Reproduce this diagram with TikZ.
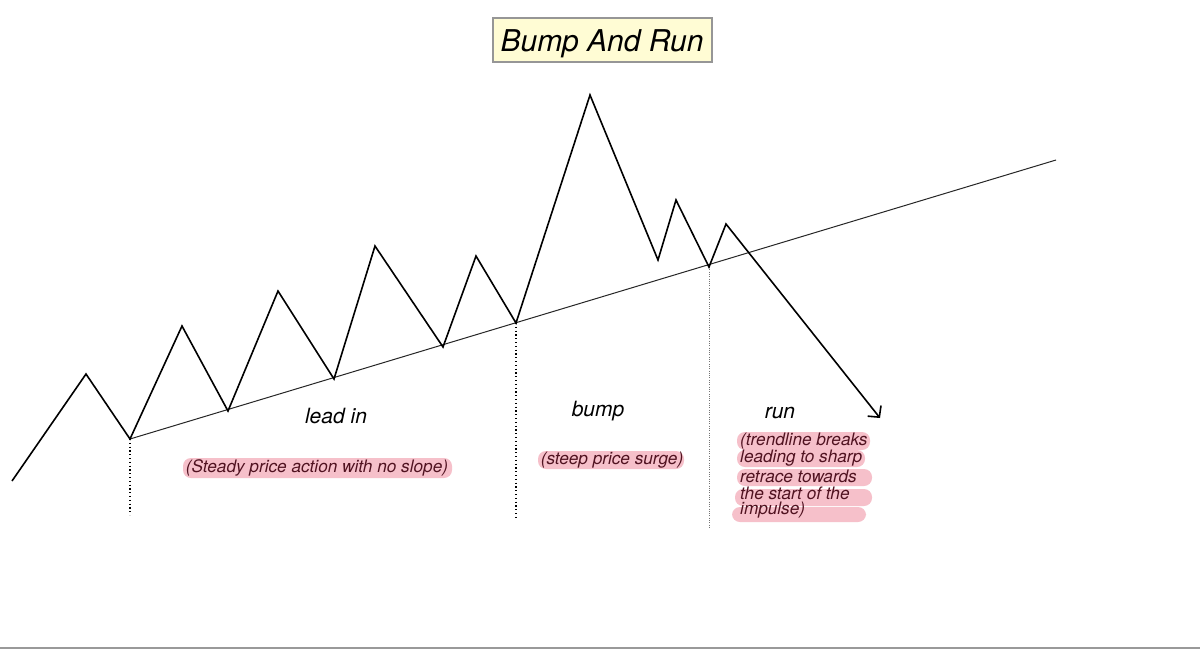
\documentclass[tikz,border=0pt]{standalone}
\usepackage{fontspec}
\setmainfont{TeX Gyre Heros}
\usetikzlibrary{arrows.meta}
\definecolor{hl}{RGB}{246,192,202}
\definecolor{ink}{RGB}{80,18,32}
\definecolor{titlefill}{RGB}{255,252,212}
\definecolor{titleedge}{RGB}{150,150,150}
\begin{document}
\begin{tikzpicture}[x=1pt,y=-1pt,
  price/.style={line width=1.6pt, line join=miter},
  trend/.style={line width=1pt, black!85},
  guide/.style={line width=1.2pt, dash pattern=on 1.2pt off 2.6pt},
  guidelight/.style={line width=0.8pt, black!55, dash pattern=on 0.8pt off 1.5pt},
  phase/.style={font=\itshape\fontsize{21}{23}\selectfont, inner sep=0pt},
  note/.style={font=\itshape\fontsize{17.2}{17.5}\selectfont, text=ink, inner sep=0pt},
  hlmark/.style={fill=hl, rounded corners=8pt},
  titlebox/.style={draw=titleedge, line width=2pt, fill=titlefill, minimum width=219pt, minimum height=44pt, inner sep=0pt, text height=22pt, text depth=0pt, font=\itshape\fontsize{30}{32}\selectfont}]
\useasboundingbox (0,0) rectangle (1200,649);
\fill[white] (0,0) rectangle (1200,649);
\draw[line width=2pt, black!40] (0,648) -- (1200,648);

% title
\node[titlebox] (title) at (602,40) {Bump And Run};

% price path points
\coordinate (s) at (12,481);
\coordinate (p1) at (86,374);
\coordinate (t1) at (130,439);
\coordinate (p2) at (182,326);
\coordinate (t2) at (228,411);
\coordinate (p3) at (278,291);
\coordinate (t3) at (334,379);
\coordinate (p4) at (375,246);
\coordinate (t4) at (443,347);
\coordinate (p5) at (476,256);
\coordinate (t5) at (516,323);
\coordinate (p6) at (590,95);
\coordinate (t6) at (658,260);
\coordinate (p7) at (676,200);
\coordinate (t7) at (709,267);
\coordinate (p8) at (726,224);
\coordinate (e) at (880,418);
\coordinate (trendend) at (1056,160);
\coordinate (g1) at (130,515);
\coordinate (g2) at (516,518);
\coordinate (g3) at (709,527);

% trendline
\draw[trend] (t1) -- (trendend);

% guides
\draw[guide] (t1) -- (g1);
\draw[guide] (t5) -- (g2);
\draw[guidelight] (t7) -- (g3);

% price path
\draw[price, -{Straight Barb[length=8pt,width=17pt,line width=1.6pt]}]
  (s) -- (p1) -- (t1) -- (p2) -- (t2) -- (p3) -- (t3) -- (p4) -- (t4) -- (p5) -- (t5)
  -- (p6) -- (t6) -- (p7) -- (t7) -- (p8) -- (e);

% phase labels
\node[phase] (leadin) at (336,416) {lead in};
\node[phase] (bump) at (598,411) {bump};
\node[phase] (run) at (780,413) {run};

% highlights
\fill[hlmark] (183,458) rectangle (452,478);
\fill[hlmark] (538,451) rectangle (684,469);
\fill[hlmark] (737,432) rectangle (870,450);
\fill[hlmark] (737,450) rectangle (865,467);
\fill[hlmark] (737,469) rectangle (872,486);
\fill[hlmark] (735,489) rectangle (872,506);
\fill[hlmark] (732,507) rectangle (866,522);

% notes
\node[note] (steady) at (317,468) {(Steady price action with no slope)};
\node[note] (steep) at (612,460) {(steep price surge)};
\node[note, anchor=west] (r1) at (740,441) {(trendline breaks};
\node[note, anchor=west] (r2) at (740,458) {leading to sharp};
\node[note, anchor=west] (r3) at (740,476) {retrace towards};
\node[note, anchor=west] (r4) at (740,493) {the start of the};
\node[note, anchor=west] (r5) at (740,510) {impulse)};
\end{tikzpicture}
\end{document}
